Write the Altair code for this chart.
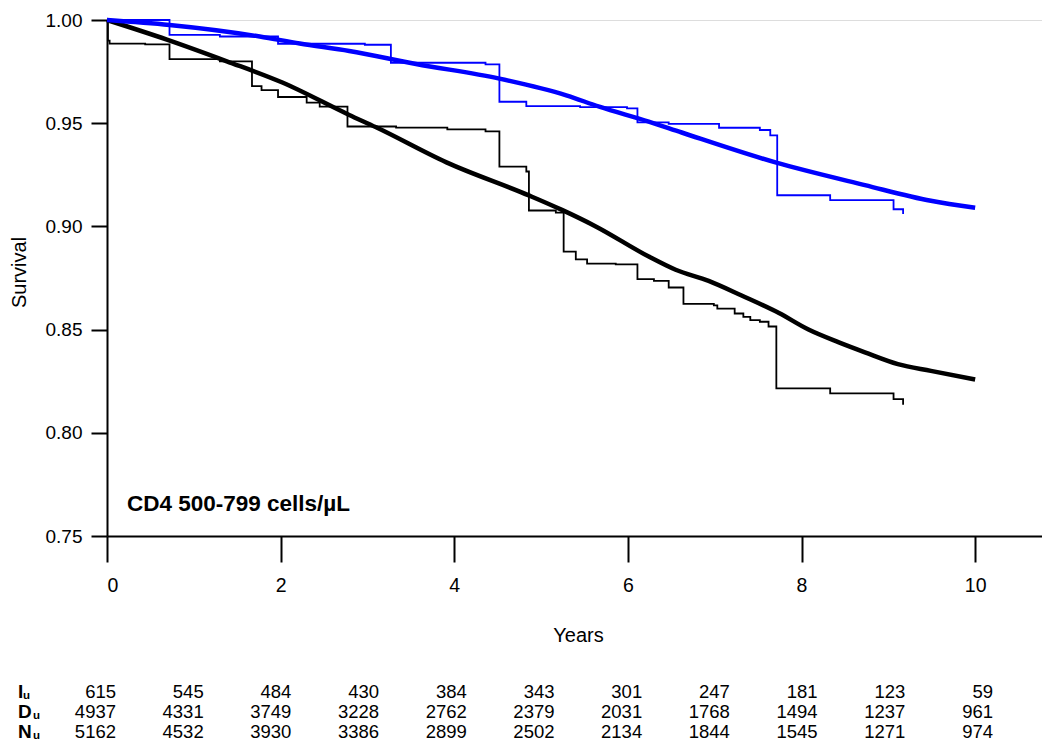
import altair as alt
import pandas as pd

# ---- Kaplan-Meier (observed) step curves ----
km_black_t = [0, 0.01, 0.03, 0.44, 0.72, 1.30, 1.67, 1.78, 1.97, 2.30, 2.45, 2.77, 3.33, 3.92,
              4.36, 4.52, 4.83, 4.86, 5.17, 5.26, 5.40, 5.53, 5.86, 6.11, 6.30, 6.47, 6.64,
              6.99, 7.03, 7.23, 7.33, 7.41, 7.52, 7.62, 7.71, 8.33, 9.06, 9.17]
km_black_s = [1.0, 0.990, 0.9886, 0.9882, 0.981, 0.980, 0.968, 0.966, 0.9627, 0.960, 0.958, 0.9484,
              0.9479, 0.947, 0.946, 0.929, 0.9266, 0.9077, 0.9067, 0.8878, 0.884, 0.882, 0.8816,
              0.8745, 0.8736, 0.8704, 0.8625, 0.8617, 0.8602, 0.8578, 0.8562, 0.8546, 0.8538,
              0.8515, 0.8215, 0.8191, 0.8163, 0.8136]

km_blue_t = [0, 0.72, 1.30, 1.97, 2.97, 3.27, 4.36, 4.52, 4.83, 5.45, 5.99, 6.11, 6.47, 7.05,
             7.52, 7.64, 7.72, 8.33, 9.06, 9.17]
km_blue_s = [1.0, 0.9928, 0.992, 0.9885, 0.988, 0.9793, 0.9785, 0.9604, 0.9583, 0.9578, 0.9572,
             0.9504, 0.9497, 0.9478, 0.9467, 0.9441, 0.9151, 0.9127, 0.9083, 0.906]

# ---- Model-predicted smooth curves ----
sm_black_t = [0, 0.69, 1.38, 2.02, 2.79, 3.10, 3.91, 4.86, 5.24, 5.63, 6.24, 6.55, 6.93, 7.31,
              7.74, 8.08, 8.43, 8.73, 9.11, 9.49, 10.0]
sm_black_s = [1.0, 0.9905, 0.980, 0.9697, 0.954, 0.948, 0.931, 0.915, 0.908, 0.900, 0.8854, 0.879,
              0.8736, 0.8665, 0.858, 0.850, 0.8438, 0.839, 0.8333, 0.830, 0.8258]

sm_blue_t = [0, 0.72, 1.76, 2.22, 2.79, 3.56, 4.52, 5.29, 5.67, 6.24, 6.62, 7.70, 8.73, 9.49, 10.0]
sm_blue_s = [1.0, 0.9976, 0.992, 0.9886, 0.985, 0.9787, 0.9716, 0.9635, 0.958, 0.9508, 0.9455,
             0.931, 0.920, 0.9124, 0.909]

# ---- Table below the chart ----
table_cols = list(range(11))
I_u = [615, 545, 484, 430, 384, 343, 301, 247, 181, 123, 59]
D_u = [4937, 4331, 3749, 3228, 2762, 2379, 2031, 1768, 1494, 1237, 961]
N_u = [5162, 4532, 3930, 3386, 2899, 2502, 2134, 1844, 1545, 1271, 974]
row_names = ["I", "D", "N"]
row_sub = "u"

label_text = "CD4 500-799 cells/µL"

FONT = "Liberation Sans"

km_black = pd.DataFrame({"t": km_black_t, "s": km_black_s})
km_blue = pd.DataFrame({"t": km_blue_t, "s": km_blue_s})
sm_black = pd.DataFrame({"t": sm_black_t, "s": sm_black_s})
sm_blue = pd.DataFrame({"t": sm_blue_t, "s": sm_blue_s})

xscale = alt.Scale(domain=[0, 10.77], nice=False, zero=False)
yscale = alt.Scale(domain=[0.75, 1.0], nice=False, zero=False)

xaxis = alt.Axis(values=[0, 2, 4, 6, 8, 10], format="d", title="Years", grid=False,
                 tickSize=26, tickWidth=2, tickColor="black", domainColor="black", domainWidth=2,
                 labelFontSize=19.5, labelFont=FONT, labelColor="black", labelPadding=14,
                 titleFont=FONT, titleFontSize=20, titleFontWeight="normal", titleColor="black",
                 titleX=471, titleY=105, titleBaseline="alphabetic", titleAlign="center")
yaxis = alt.Axis(values=[0.75, 0.80, 0.85, 0.90, 0.95, 1.00], format=".2f", title="Survival",
                 grid=False, tickSize=16, tickWidth=2, tickColor="black", domainColor="black",
                 domainWidth=2, labelFontSize=19, labelFont=FONT, labelColor="black",
                 labelPadding=9, titleFont=FONT, titleFontSize=20, titleFontWeight="normal",
                 titleColor="black", titleAngle=270, titleX=-82, titleY=252,
                 titleBaseline="alphabetic", titleAlign="center")


def line(df, color, width, interp):
    return alt.Chart(df).mark_line(color=color, strokeWidth=width, interpolate=interp).encode(
        x=alt.X("t:Q", scale=xscale, axis=xaxis),
        y=alt.Y("s:Q", scale=yscale, axis=yaxis),
    )


l1 = line(km_black, "#000000", 1.8, "step-after")
l2 = line(km_blue, "#0000ff", 1.8, "step-after")
l3 = line(sm_black, "#000000", 4.5, "monotone")
l4 = line(sm_blue, "#0000ff", 4.5, "monotone")

lab = alt.Chart(pd.DataFrame({"t": [0.23], "s": [0.7655], "txt": [label_text]})).mark_text(
    font=FONT, fontSize=22.5, fontWeight="bold", align="left", baseline="middle", color="black"
).encode(x=alt.X("t:Q", scale=xscale), y=alt.Y("s:Q", scale=yscale), text="txt:N")

plot = alt.layer(l1, l2, l3, l4, lab)

# table layer
rows = []
for name, vals in zip(row_names, [I_u, D_u, N_u]):
    for c, v in zip(table_cols, vals):
        rows.append({"col": c, "row": name, "val": str(v)})
tdf = pd.DataFrame(rows)

tx = alt.Scale(domain=[0, 10], range=[9, 886])
ty = alt.Scale(domain=row_names, range=[672, 712], type="point", padding=0)

tnums = alt.Chart(tdf).mark_text(font=FONT, fontSize=18.5, align="right", baseline="middle",
                                 color="black").encode(
    x=alt.X("col:Q", scale=tx, axis=None),
    y=alt.Y("row:N", scale=ty, axis=None),
    text="val:N",
)

tlabels = alt.Chart(pd.DataFrame({"row": row_names})).mark_text(
    font=FONT, fontSize=19, fontWeight="bold", align="left", baseline="middle", color="black"
).encode(
    x=alt.value(-89),
    y=alt.Y("row:N", scale=ty, axis=None),
    text="row:N",
)

subs = []
for name, sx in zip(row_names, [-84, -74, -74]):
    subs.append(
        alt.Chart(pd.DataFrame({"row": [name], "u": [row_sub]})).mark_text(
            font=FONT, fontSize=11.5, fontWeight="bold", align="left", baseline="middle",
            color="black", dy=4
        ).encode(
            x=alt.value(sx),
            y=alt.Y("row:N", scale=ty, axis=None),
            text="u:N",
        )
    )

table = alt.layer(tnums, tlabels, *subs).resolve_scale(x="independent", y="independent")

chart = alt.layer(plot, table).resolve_scale(x="independent", y="independent").properties(
    width=935, height=516,
    padding={"left": 99, "top": 12, "right": 0, "bottom": 210},
    autosize=alt.AutoSizeParams(type="none"),
).configure_view(stroke=None).configure(background="white")

chart.save("out.html", embed_options={"renderer": "svg", "actions": False})
